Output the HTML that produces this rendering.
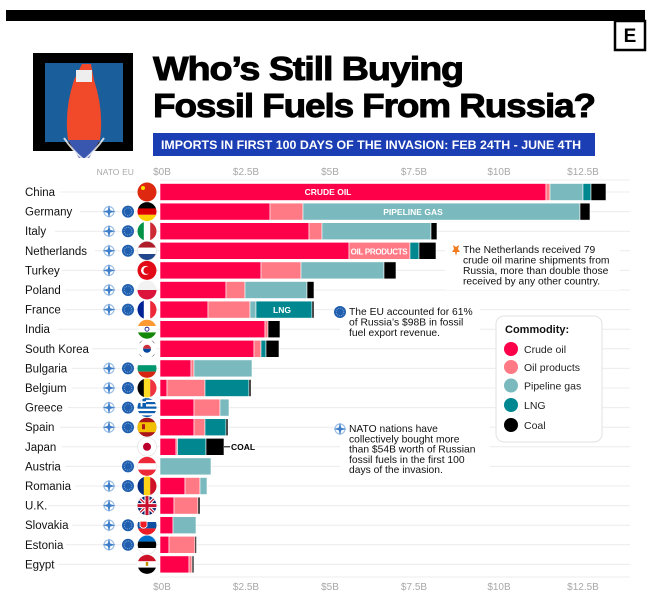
<!DOCTYPE html>
<html><head><meta charset="utf-8"><style>
html,body{margin:0;padding:0;background:#fff;}
svg{display:block;font-family:"Liberation Sans",sans-serif;}
</style></head><body>
<svg width="655" height="597" viewBox="0 0 655 597" xmlns="http://www.w3.org/2000/svg">
<defs>
<clipPath id="fc"><circle cx="0" cy="0" r="9.5"/></clipPath>
<g id="nato"><circle r="5" fill="none" stroke="#9fc0e6" stroke-width="1.2"/><path d="M0,-6.5 L1.3,-1.3 L6.5,0 L1.3,1.3 L0,6.5 L-1.3,1.3 L-6.5,0 L-1.3,-1.3Z" fill="#3f7fc9"/></g>
<g id="eu"><circle r="6" fill="#1f5fae"/><circle r="3.8" fill="none" stroke="#7fa8dd" stroke-width="0.9" stroke-dasharray="1 1"/></g>
</defs>

<!-- header -->
<rect x="6" y="10" width="639" height="11" fill="#000"/>
<rect x="615" y="21" width="30" height="29" fill="#fff" stroke="#000" stroke-width="2.5"/>
<text x="630" y="42" text-anchor="middle" font-size="19" font-weight="bold">E</text>

<rect x="33" y="53" width="100" height="98" fill="#000"/>
<rect x="45" y="63" width="78" height="79" fill="#1a5f9c"/>
<path d="M82,64 L91,64 L94,80 Q104,110 100,140 L89,158 L79,158 L68,140 Q64,110 74,80Z" fill="#f04a2a"/>
<rect x="76" y="70" width="16" height="12" fill="#eee"/>
<path d="M68,140 L100,140 L89,158 L79,158Z" fill="#3a57b0"/>
<path d="M64,138 Q72,150 84,160 Q96,150 104,138" fill="none" stroke="#fff" stroke-width="2" opacity="0.8"/>

<text x="153" y="80" font-size="33" font-weight="bold" stroke="#000" stroke-width="0.9" textLength="310" lengthAdjust="spacingAndGlyphs" letter-spacing="-1">Who’s Still Buying</text>
<text x="153" y="117" font-size="33" font-weight="bold" stroke="#000" stroke-width="0.9" textLength="442" lengthAdjust="spacingAndGlyphs" letter-spacing="-1">Fossil Fuels From Russia?</text>
<rect x="153" y="133" width="442" height="23" fill="#1c3eb4"/>
<text x="161" y="149" font-size="11.5" font-weight="bold" fill="#fff" textLength="420" lengthAdjust="spacingAndGlyphs">IMPORTS IN FIRST 100 DAYS OF THE INVASION:  FEB 24TH - JUNE 4TH</text>

<!-- axis labels -->
<g font-size="10" fill="#a8a8a8" text-anchor="middle">
<text x="108" y="175" font-size="8.5">NATO</text><text x="128" y="175" font-size="8.5">EU</text>
<text x="162" y="175">$0B</text><text x="246" y="175">$2.5B</text><text x="330" y="175">$5B</text><text x="414" y="175">$7.5B</text><text x="499" y="175">$10B</text><text x="583" y="175">$12.5B</text>
<text x="162" y="590">$0B</text><text x="246" y="590">$2.5B</text><text x="330" y="590">$5B</text><text x="414" y="590">$7.5B</text><text x="499" y="590">$10B</text><text x="583" y="590">$12.5B</text>
</g>

<!-- gridlines -->
<g stroke="#ececec" stroke-width="1">
<line x1="60" y1="192" x2="630" y2="192"/><line x1="80" y1="211.6" x2="630" y2="211.6"/><line x1="55" y1="231.2" x2="630" y2="231.2"/><line x1="95" y1="250.8" x2="630" y2="250.8"/><line x1="62" y1="270.4" x2="630" y2="270.4"/><line x1="65" y1="290" x2="630" y2="290"/><line x1="65" y1="309.6" x2="630" y2="309.6"/><line x1="58" y1="329.2" x2="630" y2="329.2"/><line x1="92" y1="348.8" x2="630" y2="348.8"/><line x1="72" y1="368.4" x2="630" y2="368.4"/><line x1="72" y1="388" x2="630" y2="388"/><line x1="68" y1="407.6" x2="630" y2="407.6"/><line x1="60" y1="427.2" x2="630" y2="427.2"/><line x1="62" y1="446.8" x2="630" y2="446.8"/><line x1="65" y1="466.4" x2="630" y2="466.4"/><line x1="75" y1="486" x2="630" y2="486"/><line x1="48" y1="505.6" x2="630" y2="505.6"/><line x1="72" y1="525.2" x2="630" y2="525.2"/><line x1="66" y1="544.8" x2="630" y2="544.8"/><line x1="58" y1="564.4" x2="630" y2="564.4"/>
<line x1="160" y1="180" x2="630" y2="180"/><line x1="160" y1="577" x2="630" y2="577"/>
</g>

<!-- country labels -->
<g font-size="11.5" fill="#111">
<text x="25" y="196">China</text><text x="25" y="215.6">Germany</text><text x="25" y="235.2">Italy</text><text x="25" y="254.8">Netherlands</text><text x="25" y="274.4">Turkey</text><text x="25" y="294">Poland</text><text x="25" y="313.6">France</text><text x="25" y="333.2">India</text><text x="25" y="352.8">South Korea</text><text x="25" y="372.4">Bulgaria</text><text x="25" y="392">Belgium</text><text x="25" y="411.6">Greece</text><text x="25" y="431.2">Spain</text><text x="25" y="450.8">Japan</text><text x="25" y="470.4">Austria</text><text x="25" y="490">Romania</text><text x="25" y="509.6">U.K.</text><text x="25" y="529.2">Slovakia</text><text x="25" y="548.8">Estonia</text><text x="25" y="568.4">Egypt</text>
</g>

<!-- NATO / EU icons -->
<use href="#nato" x="109" y="211.6"/><use href="#eu" x="128" y="211.6"/>
<use href="#nato" x="109" y="231.2"/><use href="#eu" x="128" y="231.2"/>
<use href="#nato" x="109" y="250.8"/><use href="#eu" x="128" y="250.8"/>
<use href="#nato" x="109" y="270.4"/>
<use href="#nato" x="109" y="290"/><use href="#eu" x="128" y="290"/>
<use href="#nato" x="109" y="309.6"/><use href="#eu" x="128" y="309.6"/>
<use href="#nato" x="109" y="368.4"/><use href="#eu" x="128" y="368.4"/>
<use href="#nato" x="109" y="388"/><use href="#eu" x="128" y="388"/>
<use href="#nato" x="109" y="407.6"/><use href="#eu" x="128" y="407.6"/>
<use href="#nato" x="109" y="427.2"/><use href="#eu" x="128" y="427.2"/>
<use href="#eu" x="128" y="466.4"/>
<use href="#nato" x="109" y="486"/><use href="#eu" x="128" y="486"/>
<use href="#nato" x="109" y="505.6"/>
<use href="#nato" x="109" y="525.2"/><use href="#eu" x="128" y="525.2"/>
<use href="#nato" x="109" y="544.8"/><use href="#eu" x="128" y="544.8"/>

<!-- flags -->
<g transform="translate(147,192)"><g clip-path="url(#fc)"><rect x="-10" y="-10" width="20" height="20" fill="#de2910"/><circle cx="-4" cy="-4" r="2" fill="#ffde00"/></g></g>
<g transform="translate(147,211.6)"><g clip-path="url(#fc)"><rect x="-10" y="-10" width="20" height="7" fill="#000"/><rect x="-10" y="-3.2" width="20" height="6.4" fill="#dd0000"/><rect x="-10" y="3.2" width="20" height="7" fill="#ffce00"/></g></g>
<g transform="translate(147,231.2)"><g clip-path="url(#fc)"><rect x="-10" y="-10" width="7" height="20" fill="#009246"/><rect x="-3.2" y="-10" width="6.4" height="20" fill="#fff"/><rect x="3.2" y="-10" width="7" height="20" fill="#ce2b37"/></g></g>
<g transform="translate(147,250.8)"><g clip-path="url(#fc)"><rect x="-10" y="-10" width="20" height="7" fill="#ae1c28"/><rect x="-10" y="-3.2" width="20" height="6.4" fill="#fff"/><rect x="-10" y="3.2" width="20" height="7" fill="#21468b"/></g><circle r="9.5" fill="none" stroke="#ddd" stroke-width="0.6"/></g>
<g transform="translate(147,270.4)"><g clip-path="url(#fc)"><rect x="-10" y="-10" width="20" height="20" fill="#e30a17"/><circle cx="-1.5" cy="0" r="4.5" fill="#fff"/><circle cx="0" cy="0" r="3.6" fill="#e30a17"/></g></g>
<g transform="translate(147,290)"><g clip-path="url(#fc)"><rect x="-10" y="-10" width="20" height="10" fill="#f2f2f2"/><rect x="-10" y="0" width="20" height="10" fill="#dc143c"/></g></g>
<g transform="translate(147,309.6)"><g clip-path="url(#fc)"><rect x="-10" y="-10" width="7" height="20" fill="#002395"/><rect x="-3.2" y="-10" width="6.4" height="20" fill="#fff"/><rect x="3.2" y="-10" width="7" height="20" fill="#ed2939"/></g></g>
<g transform="translate(147,329.2)"><g clip-path="url(#fc)"><rect x="-10" y="-10" width="20" height="7" fill="#ff9933"/><rect x="-10" y="-3.2" width="20" height="6.4" fill="#fff"/><rect x="-10" y="3.2" width="20" height="7" fill="#138808"/><circle r="2" fill="none" stroke="#000080" stroke-width="0.8"/></g></g>
<g transform="translate(147,348.8)"><g clip-path="url(#fc)"><rect x="-10" y="-10" width="20" height="20" fill="#fff"/><path d="M-4,0 A4,4 0 0 1 4,0Z" fill="#cd2e3a"/><path d="M-4,0 A4,4 0 0 0 4,0Z" fill="#0047a0"/><path d="M-8,-6 l3,-3 M5,-9 l3,3 M-8,6 l3,3 M5,9 l3,-3" stroke="#000" stroke-width="1.6"/></g></g>
<g transform="translate(147,368.4)"><g clip-path="url(#fc)"><rect x="-10" y="-10" width="20" height="7" fill="#fff"/><rect x="-10" y="-3.2" width="20" height="6.4" fill="#00966e"/><rect x="-10" y="3.2" width="20" height="7" fill="#d62612"/></g></g>
<g transform="translate(147,388)"><g clip-path="url(#fc)"><rect x="-10" y="-10" width="7" height="20" fill="#000"/><rect x="-3.2" y="-10" width="6.4" height="20" fill="#fdda24"/><rect x="3.2" y="-10" width="7" height="20" fill="#ef3340"/></g></g>
<g transform="translate(147,407.6)"><g clip-path="url(#fc)"><rect x="-10" y="-10" width="20" height="20" fill="#fff"/><g fill="#0d5eaf"><rect x="-10" y="-10" width="20" height="2.2"/><rect x="-10" y="-5.6" width="20" height="2.2"/><rect x="-10" y="-1.1" width="20" height="2.2"/><rect x="-10" y="3.4" width="20" height="2.2"/><rect x="-10" y="7.8" width="20" height="2.2"/><rect x="-10" y="-10" width="9" height="9"/></g><path d="M-5.5,-10 v9 M-10,-5.5 h9" stroke="#fff" stroke-width="1.8"/></g></g>
<g transform="translate(147,427.2)"><g clip-path="url(#fc)"><rect x="-10" y="-10" width="20" height="20" fill="#aa151b"/><rect x="-10" y="-5" width="20" height="10" fill="#f1bf00"/><rect x="-5" y="-3" width="3" height="5" fill="#aa151b"/></g></g>
<g transform="translate(147,446.8)"><g clip-path="url(#fc)"><rect x="-10" y="-10" width="20" height="20" fill="#fff"/><circle r="4" fill="#bc002d"/></g><circle r="9.5" fill="none" stroke="#ddd" stroke-width="0.6"/></g>
<g transform="translate(147,466.4)"><g clip-path="url(#fc)"><rect x="-10" y="-10" width="20" height="20" fill="#ed2939"/><rect x="-10" y="-3.2" width="20" height="6.4" fill="#fff"/></g></g>
<g transform="translate(147,486)"><g clip-path="url(#fc)"><rect x="-10" y="-10" width="7" height="20" fill="#002b7f"/><rect x="-3.2" y="-10" width="6.4" height="20" fill="#fcd116"/><rect x="3.2" y="-10" width="7" height="20" fill="#ce1126"/></g></g>
<g transform="translate(147,505.6)"><g clip-path="url(#fc)"><rect x="-10" y="-10" width="20" height="20" fill="#012169"/><path d="M-10,-10 L10,10 M10,-10 L-10,10" stroke="#fff" stroke-width="3.5"/><path d="M-10,-10 L10,10 M10,-10 L-10,10" stroke="#c8102e" stroke-width="1.2"/><path d="M0,-10 v20 M-10,0 h20" stroke="#fff" stroke-width="5"/><path d="M0,-10 v20 M-10,0 h20" stroke="#c8102e" stroke-width="3"/></g></g>
<g transform="translate(147,525.2)"><g clip-path="url(#fc)"><rect x="-10" y="-10" width="20" height="7" fill="#fff"/><rect x="-10" y="-3.2" width="20" height="6.4" fill="#0b4ea2"/><rect x="-10" y="3.2" width="20" height="7" fill="#ee1c25"/><path d="M-7,-4 h7 v5 q-3.5,4 -7,0z" fill="#ee1c25" stroke="#fff" stroke-width="0.8"/></g></g>
<g transform="translate(147,544.8)"><g clip-path="url(#fc)"><rect x="-10" y="-10" width="20" height="7" fill="#0072ce"/><rect x="-10" y="-3.2" width="20" height="6.4" fill="#000"/><rect x="-10" y="3.2" width="20" height="7" fill="#fff"/></g><circle r="9.5" fill="none" stroke="#ddd" stroke-width="0.6"/></g>
<g transform="translate(147,564.4)"><g clip-path="url(#fc)"><rect x="-10" y="-10" width="20" height="7" fill="#ce1126"/><rect x="-10" y="-3.2" width="20" height="6.4" fill="#fff"/><rect x="-10" y="3.2" width="20" height="7" fill="#000"/><rect x="-1.2" y="-2.5" width="2.4" height="4" fill="#c09300"/></g></g>

<!-- bars -->
<g stroke="#fff" stroke-width="0.6">
<rect x="160" y="183.5" width="386" height="17" fill="#fe0049"/><rect x="546" y="183.5" width="4" height="17" fill="#ff7a85"/><rect x="550" y="183.5" width="33" height="17" fill="#7ab9be"/><rect x="583" y="183.5" width="8" height="17" fill="#00878f"/><rect x="591" y="183.5" width="15" height="17" fill="#000"/>
<rect x="160" y="203.1" width="110" height="17" fill="#fe0049"/><rect x="270" y="203.1" width="33" height="17" fill="#ff7a85"/><rect x="303" y="203.1" width="277" height="17" fill="#7ab9be"/><rect x="580" y="203.1" width="10" height="17" fill="#000"/>
<rect x="160" y="222.7" width="149" height="17" fill="#fe0049"/><rect x="309" y="222.7" width="13" height="17" fill="#ff7a85"/><rect x="322" y="222.7" width="109" height="17" fill="#7ab9be"/><rect x="431" y="222.7" width="6" height="17" fill="#000"/>
<rect x="160" y="242.3" width="189" height="17" fill="#fe0049"/><rect x="349" y="242.3" width="61" height="17" fill="#ff7a85"/><rect x="410" y="242.3" width="9" height="17" fill="#00878f"/><rect x="419" y="242.3" width="17" height="17" fill="#000"/>
<rect x="160" y="261.9" width="101" height="17" fill="#fe0049"/><rect x="261" y="261.9" width="40" height="17" fill="#ff7a85"/><rect x="301" y="261.9" width="83" height="17" fill="#7ab9be"/><rect x="384" y="261.9" width="12" height="17" fill="#000"/>
<rect x="160" y="281.5" width="66" height="17" fill="#fe0049"/><rect x="226" y="281.5" width="19" height="17" fill="#ff7a85"/><rect x="245" y="281.5" width="62" height="17" fill="#7ab9be"/><rect x="307" y="281.5" width="7" height="17" fill="#000"/>
<rect x="160" y="301.1" width="48" height="17" fill="#fe0049"/><rect x="208" y="301.1" width="42" height="17" fill="#ff7a85"/><rect x="250" y="301.1" width="6" height="17" fill="#7ab9be"/><rect x="256" y="301.1" width="56" height="17" fill="#00878f"/><rect x="312" y="301.1" width="2" height="17" fill="#000"/>
<rect x="160" y="320.7" width="105" height="17" fill="#fe0049"/><rect x="265" y="320.7" width="3" height="17" fill="#ff7a85"/><rect x="268" y="320.7" width="12" height="17" fill="#000"/>
<rect x="160" y="340.3" width="94" height="17" fill="#fe0049"/><rect x="254" y="340.3" width="7" height="17" fill="#ff7a85"/><rect x="261" y="340.3" width="5" height="17" fill="#00878f"/><rect x="266" y="340.3" width="13" height="17" fill="#000"/>
<rect x="160" y="359.9" width="31" height="17" fill="#fe0049"/><rect x="191" y="359.9" width="3" height="17" fill="#ff7a85"/><rect x="194" y="359.9" width="58" height="17" fill="#7ab9be"/>
<rect x="160" y="379.5" width="7" height="17" fill="#fe0049"/><rect x="167" y="379.5" width="38" height="17" fill="#ff7a85"/><rect x="205" y="379.5" width="44" height="17" fill="#00878f"/><rect x="249" y="379.5" width="2" height="17" fill="#000"/>
<rect x="160" y="399.1" width="34" height="17" fill="#fe0049"/><rect x="194" y="399.1" width="26" height="17" fill="#ff7a85"/><rect x="220" y="399.1" width="9" height="17" fill="#7ab9be"/>
<rect x="160" y="418.7" width="34" height="17" fill="#fe0049"/><rect x="194" y="418.7" width="11" height="17" fill="#ff7a85"/><rect x="205" y="418.7" width="21" height="17" fill="#00878f"/><rect x="226" y="418.7" width="2" height="17" fill="#000"/>
<rect x="160" y="438.3" width="16" height="17" fill="#fe0049"/><rect x="176" y="438.3" width="1.5" height="17" fill="#ff7a85"/><rect x="177.5" y="438.3" width="28.5" height="17" fill="#00878f"/><rect x="206" y="438.3" width="18" height="17" fill="#000"/>
<rect x="160" y="457.9" width="51" height="17" fill="#7ab9be"/>
<rect x="160" y="477.5" width="25" height="17" fill="#fe0049"/><rect x="185" y="477.5" width="15" height="17" fill="#ff7a85"/><rect x="200" y="477.5" width="7" height="17" fill="#7ab9be"/>
<rect x="160" y="497.1" width="14" height="17" fill="#fe0049"/><rect x="174" y="497.1" width="24" height="17" fill="#ff7a85"/><rect x="198" y="497.1" width="2" height="17" fill="#000"/>
<rect x="160" y="516.7" width="13" height="17" fill="#fe0049"/><rect x="173" y="516.7" width="23" height="17" fill="#7ab9be"/>
<rect x="160" y="536.3" width="9" height="17" fill="#fe0049"/><rect x="169" y="536.3" width="26" height="17" fill="#ff7a85"/><rect x="195" y="536.3" width="1.5" height="17" fill="#000"/>
<rect x="160" y="555.9" width="29" height="17" fill="#fe0049"/><rect x="189" y="555.9" width="3" height="17" fill="#ff7a85"/><rect x="192" y="555.9" width="2" height="17" fill="#333"/>
</g>

<!-- in-bar labels -->
<g font-size="8.5" font-weight="bold" fill="#fff" text-anchor="middle">
<text x="328" y="195">CRUDE OIL</text>
<text x="413" y="215">PIPELINE GAS</text>
<text x="379" y="254.3" font-size="8" letter-spacing="-0.3">OIL PRODUCTS</text>
<text x="282" y="313">LNG</text>
</g>
<line x1="224" y1="446.8" x2="230" y2="446.8" stroke="#000" stroke-width="1"/>
<text x="231" y="450" font-size="8.5" font-weight="bold">COAL</text>

<!-- annotations -->
<rect x="445" y="240" width="175" height="50" fill="#fff"/>
<path d="M453,245 l3,2 l3,-2 l-1,4 l2,3 l-3,0 l-1,4 l-1,-4 l-3,0 l2,-3z" fill="#f07c22"/>
<g font-size="10.3" fill="#111">
<text x="463" y="253">The Netherlands received 79</text>
<text x="463" y="263.5">crude oil marine shipments from</text>
<text x="463" y="274">Russia, more than double those</text>
<text x="463" y="284.5">received by any other country.</text>
</g>
<rect x="340" y="305" width="140" height="36" fill="#fff"/>
<use href="#eu" x="340" y="312"/>
<g font-size="10.3" fill="#111">
<text x="349" y="315">The EU accounted for 61%</text>
<text x="349" y="325.5">of Russia’s $98B in fossil</text>
<text x="349" y="336">fuel export revenue.</text>
</g>
<rect x="340" y="420" width="150" height="54" fill="#fff"/>
<use href="#nato" x="340" y="429"/>
<g font-size="10.3" fill="#111">
<text x="349" y="432">NATO nations have</text>
<text x="349" y="442.3">collectively bought more</text>
<text x="349" y="452.6">than $54B worth of Russian</text>
<text x="349" y="462.9">fossil fuels in the first 100</text>
<text x="349" y="473.2">days of the invasion.</text>
</g>

<!-- legend -->
<rect x="496" y="316" width="106" height="126" rx="8" fill="#fff" stroke="#e2e2e2" stroke-width="1"/>
<text x="505" y="333" font-size="11" font-weight="bold" fill="#111">Commodity:</text>
<g font-size="10.5" fill="#222">
<circle cx="511" cy="349" r="7" fill="#fe0049"/><text x="524" y="353">Crude oil</text>
<circle cx="511" cy="367" r="7" fill="#ff7a85"/><text x="524" y="371">Oil products</text>
<circle cx="511" cy="385.5" r="7" fill="#7ab9be"/><text x="524" y="389.5">Pipeline gas</text>
<circle cx="511" cy="405" r="7" fill="#00878f"/><text x="524" y="409">LNG</text>
<circle cx="511" cy="425" r="7" fill="#000"/><text x="524" y="429">Coal</text>
</g>
</svg>
</body></html>
